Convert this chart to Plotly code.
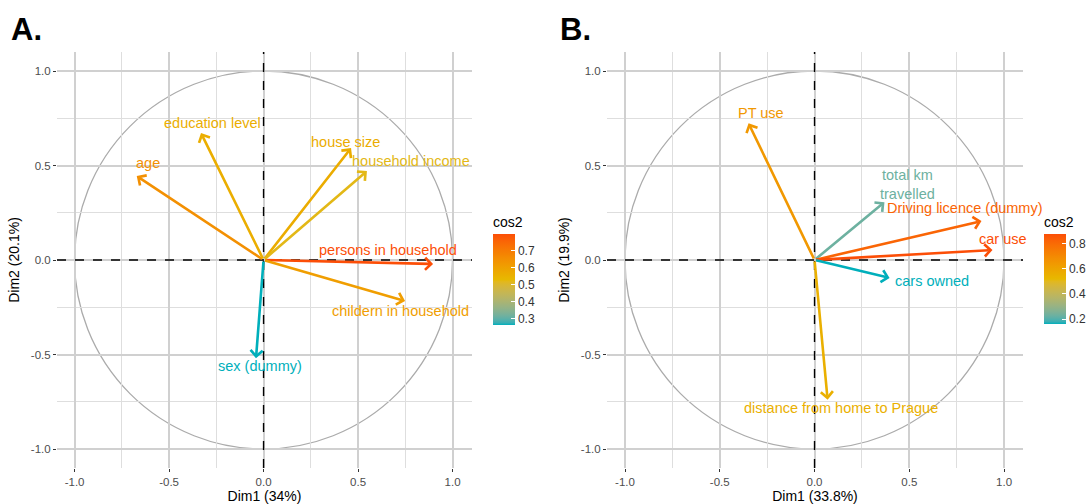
import plotly.graph_objects as go
from plotly.colors import sample_colorscale

# ---------------- data ----------------
A_vars = ["persons in household", "childern in household", "sex (dummy)", "age",
          "education level", "house size", "household income"]
A_dim1 = [0.897, 0.749, -0.040, -0.671, -0.331, 0.463, 0.547]
A_dim2 = [-0.021, -0.217, -0.520, 0.444, 0.672, 0.592, 0.471]
A_cos2 = [0.795, 0.608, 0.265, 0.647, 0.560, 0.565, 0.520]

B_vars = ["PT use", "total km<br>travelled", "Driving licence (dummy)", "car use",
          "cars owned", "distance from home to Prague"]
B_dim1 = [-0.348, 0.369, 0.881, 0.939, 0.396, 0.069]
B_dim2 = [0.723, 0.306, 0.206, 0.053, -0.095, -0.739]
B_cos2 = [0.644, 0.230, 0.818, 0.877, 0.161, 0.551]

A_xtitle, A_ytitle = "Dim1 (34%)", "Dim2 (20.1%)"
B_xtitle, B_ytitle = "Dim1 (33.8%)", "Dim2 (19.9%)"
axis_ticks = [-1.0, -0.5, 0.0, 0.5, 1.0]
axis_ticktext = ["-1.0", "-0.5", "0.0", "0.5", "1.0"]
A_cb_ticks = [0.3, 0.4, 0.5, 0.6, 0.7]
B_cb_ticks = [0.2, 0.4, 0.6, 0.8]

# ---------------- style ----------------
FONT = "Liberation Sans, Arial, sans-serif"
GRADIENT = ["#00AFBB", "#E7B800", "#FC4E07"]
# label offsets in pixels (dx, dy up)
A_off = [(-45, 14), (-5, -10), (4, -8), (11, 13), (11, 10), (-6, 6), (44, 10)]
B_off = [(12, 10), (23, 18), (-16, 13), (11, 11), (42, -3), (13, -8)]


# colour ramp interpolated in CIELAB (like ggplot's gradientn)
def _hex2rgb(h):
    h = h.lstrip("#")
    return [int(h[i:i + 2], 16) / 255 for i in (0, 2, 4)]


def _lin(c):
    return c / 12.92 if c <= 0.04045 else ((c + 0.055) / 1.055) ** 2.4


def _gam(c):
    c = max(0.0, min(1.0, c))
    return 12.92 * c if c <= 0.0031308 else 1.055 * c ** (1 / 2.4) - 0.055


WP = (0.95047, 1.0, 1.08883)


def _f(t):
    return t ** (1 / 3) if t > 216 / 24389 else (24389 / 27 * t + 16) / 116


def _finv(t):
    return t ** 3 if t ** 3 > 216 / 24389 else (116 * t - 16) / (24389 / 27)


def to_lab(h):
    r, g, b = [_lin(c) for c in _hex2rgb(h)]
    X = 0.4124 * r + 0.3576 * g + 0.1805 * b
    Y = 0.2126 * r + 0.7152 * g + 0.0722 * b
    Z = 0.0193 * r + 0.1192 * g + 0.9505 * b
    fx_, fy_, fz_ = _f(X / WP[0]), _f(Y / WP[1]), _f(Z / WP[2])
    return (116 * fy_ - 16, 500 * (fx_ - fy_), 200 * (fy_ - fz_))


def from_lab(L, a, b):
    fy_ = (L + 16) / 116
    fx_ = fy_ + a / 500
    fz_ = fy_ - b / 200
    X, Y, Z = WP[0] * _finv(fx_), WP[1] * _finv(fy_), WP[2] * _finv(fz_)
    r = 3.2406 * X - 1.5372 * Y - 0.4986 * Z
    g = -0.9689 * X + 1.8758 * Y + 0.0415 * Z
    bb = 0.0557 * X - 0.2040 * Y + 1.0570 * Z
    return "rgb(%d,%d,%d)" % tuple(round(_gam(c) * 255) for c in (r, g, bb))


labs = [to_lab(c) for c in GRADIENT]
N = 40
SCALE = []
for i in range(N + 1):
    t = i / N
    seg = min(int(t * 2), 1)
    u = t * 2 - seg
    l0, l1 = labs[seg], labs[seg + 1]
    SCALE.append([t, from_lab(*[l0[k] + (l1[k] - l0[k]) * u for k in range(3)])])

W, H = 1090, 504


def fx(p):
    return p / W


def fy(p):
    return 1 - p / H


y_dom = [fy(468), fy(52)]

fig = go.Figure()


def add_panel(vars_, d1, d2, c2, offs, xr, yr, cax):
    cmin, cmax = min(c2), max(c2)
    cols = sample_colorscale(SCALE, [(c - cmin) / (cmax - cmin) for c in c2])
    fig.add_trace(go.Scatter(
        x=d1, y=d2, mode="markers", xaxis=xr, yaxis=yr, showlegend=False,
        hoverinfo="skip",
        marker=dict(size=2, opacity=0, color=c2, coloraxis=cax)))
    fig.add_shape(type="circle", xref=xr, yref=yr, x0=-1, y0=-1, x1=1, y1=1,
                  line=dict(color="#ABABAB", width=1.3), layer="below")
    fig.add_shape(type="line", xref=xr, yref=f"{yr} domain", x0=0, x1=0, y0=0, y1=1,
                  line=dict(color="black", width=1.4, dash="dash"))
    fig.add_shape(type="line", xref=f"{xr} domain", yref=yr, x0=0, x1=1, y0=0, y1=0,
                  line=dict(color="black", width=1.4, dash="dash"))
    for name, x, y, col, (dx, dy) in zip(vars_, d1, d2, cols, offs):
        fig.add_annotation(x=x, y=y, ax=0, ay=0, xref=xr, yref=yr, axref=xr, ayref=yr,
                           text="", showarrow=True, arrowhead=4, arrowsize=0.9,
                           arrowwidth=2.6, arrowcolor=col)
        fig.add_annotation(x=x, y=y, xref=xr, yref=yr, text=name, showarrow=False,
                           xshift=dx, yshift=dy,
                           font=dict(color=col, size=14.5, family=FONT))
    return cmin, cmax


aminA, amaxA = add_panel(A_vars, A_dim1, A_dim2, A_cos2, A_off, "x", "y", "coloraxis")
aminB, amaxB = add_panel(B_vars, B_dim1, B_dim2, B_cos2, B_off, "x2", "y2", "coloraxis2")

grid_major = "#D0D0D0"
grid_minor = "#DEDEDE"


def axis_common(title, dom, rng, anchor, is_y=False):
    return dict(
        domain=dom, range=rng, anchor=anchor,
        tickvals=axis_ticks, ticktext=axis_ticktext,
        showgrid=True, gridcolor=grid_major, gridwidth=1.5,
        minor=dict(showgrid=True, gridcolor=grid_minor, gridwidth=1, dtick=0.25, tick0=0),
        zeroline=False, showline=False,
        ticks="outside", ticklen=3, tickwidth=1.3, tickcolor="#333333",
        tickfont=dict(size=11.5, color="#4D4D4D", family=FONT),
        title=dict(text=title, font=dict(size=14, color="black", family=FONT),
                   standoff=3 if not is_y else 7),
    )


def colorbar(xpix, ymid, lenpx, ticks):
    return dict(
        x=fx(xpix), xanchor="left", y=fy(ymid), yanchor="middle",
        len=lenpx / H, lenmode="fraction", thickness=22, xpad=0, ypad=0,
        outlinewidth=0, tickvals=ticks, ticks="inside", ticklen=4,
        tickcolor="white", tickfont=dict(size=12, color="#333333", family=FONT),
        title=dict(text="cos2", side="top", font=dict(size=14, color="black", family=FONT)))


fig.update_layout(
    width=W, height=H,
    margin=dict(l=0, r=0, t=0, b=0),
    paper_bgcolor="white", plot_bgcolor="white",
    font=dict(family=FONT),
    xaxis=axis_common(A_xtitle, [fx(57), fx(472)], [-1.093, 1.103], "y"),
    yaxis=axis_common(A_ytitle, y_dom, [-1.1005, 1.1005], "x", True),
    xaxis2=axis_common(B_xtitle, [fx(607), fx(1023)], [-1.095, 1.100], "y2"),
    yaxis2=axis_common(B_ytitle, y_dom, [-1.1005, 1.1005], "x2", True),
    coloraxis=dict(colorscale=SCALE, cmin=aminA, cmax=amaxA,
                   colorbar=colorbar(493, 269, 112, A_cb_ticks)),
    coloraxis2=dict(colorscale=SCALE, cmin=aminB, cmax=amaxB,
                    colorbar=colorbar(1044, 268.5, 111, B_cb_ticks)),
)

fig.add_annotation(xref="paper", yref="paper", x=fx(9), y=fy(10), xanchor="left",
                   yanchor="top", text="<b>A.</b>", showarrow=False,
                   font=dict(size=31, color="black", family=FONT))
fig.add_annotation(xref="paper", yref="paper", x=fx(558), y=fy(10), xanchor="left",
                   yanchor="top", text="<b>B.</b>", showarrow=False,
                   font=dict(size=31, color="black", family=FONT))

# remove the default 8px body margin so the 1090x504 figure fills the window
fig.write_html("out.html",
               config={"displayModeBar": False},
               post_script="document.body.style.margin='0';"
                           "document.body.style.overflow='hidden';")
